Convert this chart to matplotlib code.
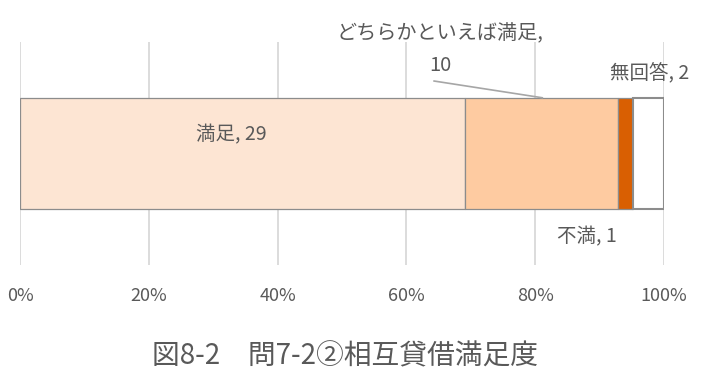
import matplotlib
matplotlib.use("Agg")
import matplotlib.pyplot as plt

plt.rcParams['font.family'] = ['Noto Sans CJK JP', 'DejaVu Sans']

# 問7-2② 相互貸借満足度 (回答数)
categories = ["満足", "どちらかといえば満足", "不満", "無回答"]
counts = [29, 10, 1, 2]
colors = ["#FDE5D3", "#FECBA1", "#D95F02", "#FFFFFF"]
tick_labels = ["0%", "20%", "40%", "60%", "80%", "100%"]

total = sum(counts)
shares = [c / total for c in counts]

fig = plt.figure(figsize=(7.11, 3.83), dpi=100)
ax = fig.add_axes([20/711, 1-265/383, 644/711, 223/383])

left = 0
for i, (s, col) in enumerate(zip(shares, colors)):
    lw = 1.5 if i == 3 else 0.9
    ax.barh(0, s, left=left, height=1.0, color=col, edgecolor="#8C8C8C",
            linewidth=lw, zorder=3)
    left += s

ax.set_xlim(0, 1)
ax.set_ylim(-1, 1)
ax.set_xticks([i / 5 for i in range(6)])
ax.set_xticklabels(tick_labels, color="#595959", fontsize=13)
ax.tick_params(axis="x", length=0, pad=16)
ax.set_yticks([])
ax.grid(axis="x", color="#D9D9D9", linewidth=1.3, zorder=0)
for sp in ax.spines.values():
    sp.set_visible(False)

tc = "#595959"
fs = 14
ax.text(0.328, 0.166, f"{categories[0]}, {counts[0]}", ha="center", va="center",
        color=tc, fontsize=fs, zorder=5)
ax.text(0.652, 0.93, f"{categories[1]},\n{counts[1]}", ha="center", va="center",
        color=tc, fontsize=fs + 0.5, linespacing=1.65, clip_on=False, zorder=5)
ax.plot([0.643, 0.811], [0.65, 0.5], color="#A6A6A6", linewidth=1.2,
        zorder=4, clip_on=False)
ax.text(0.978, 0.713, f"{categories[3]}, {counts[3]}", ha="center", va="center",
        color=tc, fontsize=fs, clip_on=False, zorder=5)
ax.text(0.880, -0.749, f"{categories[2]}, {counts[2]}", ha="center", va="center",
        color=tc, fontsize=fs, zorder=5)

fig.text(0.485, 1-356/383, "図8-2　問7-2②相互貸借満足度", ha="center", va="center",
         color=tc, fontsize=20)

fig.savefig("out.png", dpi=100, facecolor="white")
